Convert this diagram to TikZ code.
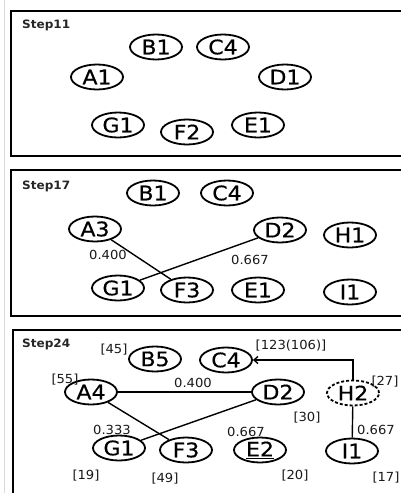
\documentclass[tikz,border=0pt]{standalone}
\usepackage{fontspec}
\newfontfamily\nodefont{DejaVu Sans}[FakeStretch=1.1,FakeBold=0.6]
\newfontfamily\labelfont{DejaVu Sans}[FakeStretch=1.05]
\usetikzlibrary{shapes.geometric,arrows.meta}
\begin{document}
\begin{tikzpicture}[x=1pt,y=-1pt,
  vertex/.style={ellipse,draw,line width=1.8pt,minimum width=52pt,minimum height=25pt,
    inner sep=0pt,font=\nodefont\fontsize{20}{20}\selectfont},
  pending/.style={vertex,dash pattern=on 3pt off 2pt},
  panel/.style={line width=2pt},
  link/.style={line width=1.4pt},
  weight/.style={inner sep=0pt,text=black!90,font=\labelfont\fontsize{12.5}{12.5}\selectfont},
  tag/.style={weight},
  steptitle/.style={inner sep=0pt,anchor=base west,text=black!85,
    font=\labelfont\bfseries\fontsize{11.5}{11.5}\selectfont}]
\useasboundingbox (0,0) rectangle (401,493);
\draw[black!15,line width=0.8pt] (4,0) -- (4,493);

% ---------- step 11 ----------
\draw[panel] (403,11) -- (11,11) -- (11,156) -- (403,156);
\node[steptitle] (s11) at (22,28) {Step11};
\node[vertex] (a1) at (97,77) {A1};
\node[vertex] (b1) at (156,47) {B1};
\node[vertex] (c4) at (223,47) {C4};
\node[vertex] (d1) at (285,77) {D1};
\node[vertex] (g1) at (118,125) {G1};
\node[vertex] (f2) at (187,132) {F2};
\node[vertex] (e1) at (258,125) {E1};

% ---------- step 17 ----------
\draw[panel] (403,170) -- (11,170) -- (11,316) -- (403,316);
\node[steptitle] (s17) at (22,189) {Step17};
\node[vertex] (b1b) at (153,193) {B1};
\node[vertex] (c4b) at (227,193) {C4};
\node[vertex] (a3) at (95,229) {A3};
\node[vertex] (d2b) at (280,230) {D2};
\node[vertex] (h1) at (350,235) {H1};
\node[vertex] (g1b) at (118,288) {G1};
\node[vertex] (f3b) at (187,290) {F3};
\node[vertex] (e1b) at (258,290) {E1};
\node[vertex] (i1b) at (350,292) {I1};
\draw[link] (a3) -- (f3b);
\draw[link] (g1b) -- (d2b);
\node[weight] (w17a) at (108,255) {0.400};
\node[weight] (w17b) at (250,260) {0.667};

% ---------- step 24 ----------
\draw[panel] (403,330) -- (13,330) -- (13,495);
\node[steptitle] (s24) at (22,347) {Step24};
\node[vertex] (b5) at (155,359) {B5};
\node[vertex] (c4c) at (226,360) {C4};
\node[vertex] (a4) at (91,392) {A4};
\node[vertex] (d2c) at (278,392) {D2};
\node[pending] (h2) at (353,393) {H2};
\node[vertex] (g1c) at (119,448) {G1};
\node[vertex] (f3c) at (186,450) {F3};
\node[vertex] (e2) at (260,450) {\underline{E2}};
\node[vertex] (i1c) at (352,451) {I1};
\draw[link] (a4) -- (d2c);
\draw[link] (a4) -- (f3c);
\draw[link] (g1c) -- (d2c);
\draw[link] (h2) -- (i1c);
\draw[link,-{Straight Barb[length=4pt,width=7pt]}] (h2.north) |- (c4c.east);
\node[weight] (w24a) at (193,383) {0.400};
\node[weight] (w24b) at (112,430) {0.333};
\node[weight] (w24c) at (246,432) {0.667};
\node[weight,anchor=west] (w24d) at (357,430) {0.667};
\node[tag] (t45) at (114,350) {[45]};
\node[tag] (t123) at (291,346) {[123(106)]};
\node[tag] (t55) at (65,380) {[55]};
\node[tag] (t27) at (385,382) {[27]};
\node[tag] (t30) at (307,418) {[30]};
\node[tag] (t19) at (86,476) {[19]};
\node[tag] (t49) at (165,479) {[49]};
\node[tag] (t20) at (295,476) {[20]};
\node[tag] (t17) at (386,478) {[17]};
\end{tikzpicture}
\end{document}
